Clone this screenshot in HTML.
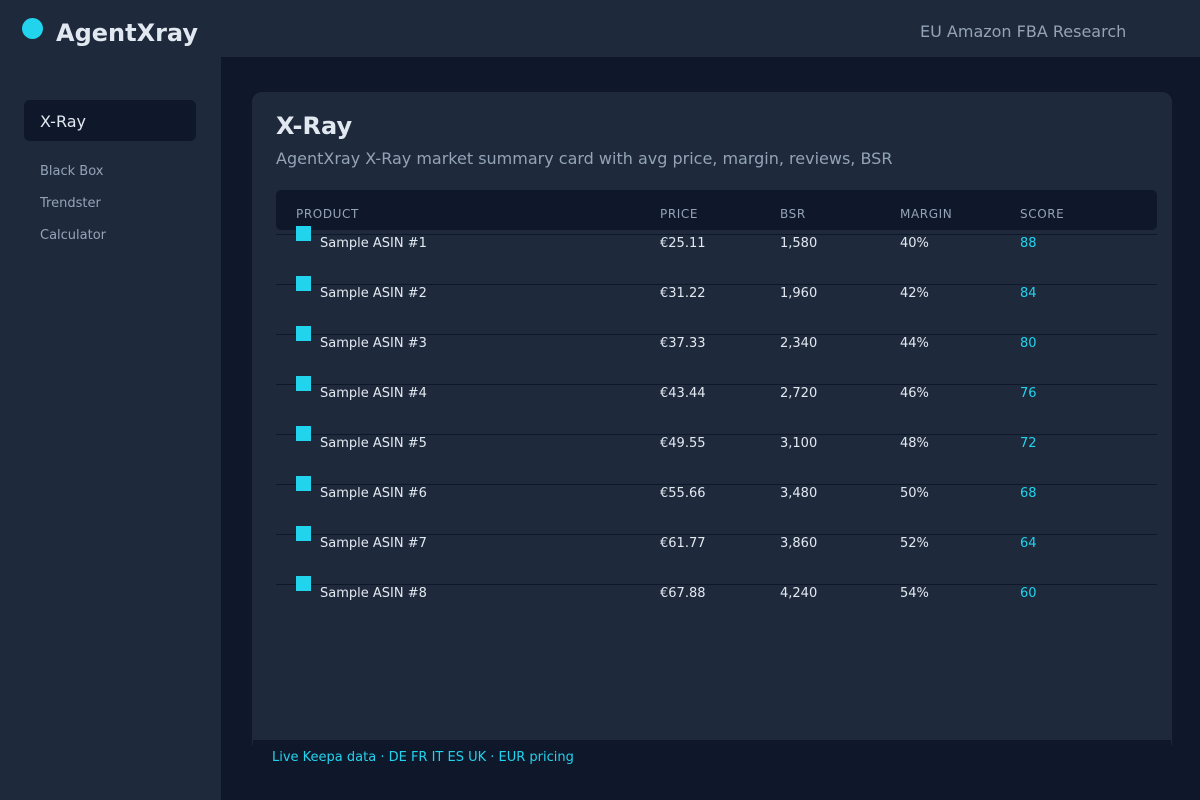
<!DOCTYPE html>
<html><head><meta charset="utf-8"><style>
*{margin:0;padding:0;box-sizing:border-box}
body{width:1200px;height:800px;background:#0f172a;font-family:"DejaVu Sans","Liberation Sans",sans-serif;position:relative;overflow:hidden;color:#e2e8f0}
.a{position:absolute;white-space:nowrap;line-height:1}
.h{letter-spacing:0.6px}
</style></head><body>
<div class="a" style="left:0;top:0;width:1200px;height:57px;background:#1e293b"></div>
<div class="a" style="left:0;top:57px;width:221px;height:743px;background:#1e293b"></div>
<div class="a" style="left:22px;top:18px;width:21px;height:21px;border-radius:50%;background:#22d3ee"></div>
<div class="a" style="left:56px;top:21px;font-size:24px;font-weight:bold;color:#e2e8f0">AgentXray</div>
<div class="a" style="left:920px;top:24px;font-size:16px;color:#94a3b8">EU Amazon FBA Research</div>
<div class="a" style="left:24px;top:100px;width:172px;height:41px;border-radius:6px;background:#0f172a"></div>
<div class="a" style="left:40px;top:114px;font-size:16px;color:#e2e8f0">X-Ray</div>
<div class="a" style="left:40px;top:165px;font-size:13px;color:#94a3b8">Black Box</div>
<div class="a" style="left:40px;top:197px;font-size:13px;color:#94a3b8">Trendster</div>
<div class="a" style="left:40px;top:229px;font-size:13px;color:#94a3b8">Calculator</div>
<div class="a" style="left:252px;top:92px;width:920px;height:660px;border-radius:10px;background:#1e293b"></div>
<div class="a" style="left:276px;top:114px;font-size:24px;font-weight:bold;color:#e2e8f0">X-Ray</div>
<div class="a" style="left:276px;top:151px;font-size:16px;color:#94a3b8">AgentXray X-Ray market summary card with avg price, margin, reviews, BSR</div>
<div class="a" style="left:276px;top:190px;width:881px;height:40px;border-radius:5px;background:#0f172a"></div>
<div class="a h" style="left:296px;top:208px;font-size:12px;color:#94a3b8">PRODUCT</div>
<div class="a h" style="left:660px;top:208px;font-size:12px;color:#94a3b8">PRICE</div>
<div class="a h" style="left:780px;top:208px;font-size:12px;color:#94a3b8">BSR</div>
<div class="a h" style="left:900px;top:208px;font-size:12px;color:#94a3b8">MARGIN</div>
<div class="a h" style="left:1020px;top:208px;font-size:12px;color:#94a3b8">SCORE</div>
<div id="rows"></div>
<div class="a" style="left:253px;top:740px;width:918px;height:60px;background:#0f172a"></div>
<div class="a" style="left:272px;top:751px;font-size:13px;color:#22d3ee">Live Keepa data · DE FR IT ES UK · EUR pricing</div>
<script>
var p=["25.11","31.22","37.33","43.44","49.55","55.66","61.77","67.88"],b=["1,580","1,960","2,340","2,720","3,100","3,480","3,860","4,240"],h="";
for(var i=0;i<8;i++){var y=50*i;
h+='<div class="a" style="left:276px;top:'+(234+y)+'px;width:881px;height:1px;background:#0f172a"></div>';
h+='<div class="a" style="left:296px;top:'+(226+y)+'px;width:15px;height:15px;background:#22d3ee"></div>';
var t=237+y;
h+='<div class="a" style="left:320px;top:'+t+'px;font-size:13px">Sample ASIN #'+(i+1)+'</div>';
h+='<div class="a" style="left:660px;top:'+t+'px;font-size:13px">€'+p[i]+'</div>';
h+='<div class="a" style="left:780px;top:'+t+'px;font-size:13px">'+b[i]+'</div>';
h+='<div class="a" style="left:900px;top:'+t+'px;font-size:13px">'+(40+2*i)+'%</div>';
h+='<div class="a" style="left:1020px;top:'+t+'px;font-size:13px;color:#22d3ee">'+(88-4*i)+'</div>';}
document.getElementById("rows").innerHTML=h;
</script>
</body></html>
